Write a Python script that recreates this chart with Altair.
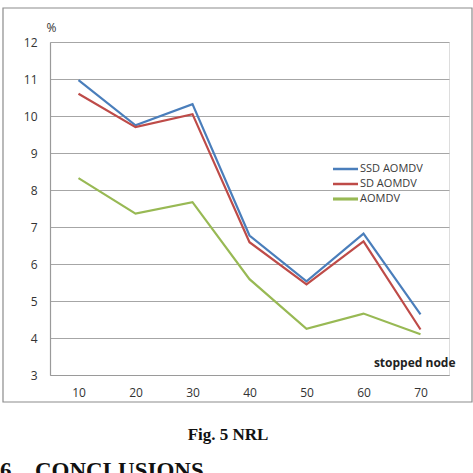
import altair as alt
import pandas as pd

# Stopped-node counts on the x axis
nodes = [10, 20, 30, 40, 50, 60, 70]
# NRL (%) per protocol
ssd_aomdv = [10.97, 9.75, 10.32, 6.77, 5.53, 6.82, 4.64]
sd_aomdv = [10.60, 9.70, 10.05, 6.59, 5.45, 6.61, 4.23]
aomdv = [8.32, 7.36, 7.67, 5.59, 4.25, 4.66, 4.10]

series_names = ["SSD AOMDV", "SD AOMDV", "AOMDV"]
series_colors = ["#4a7ebb", "#be4b48", "#98b954"]
series_widths = [2.2, 2.2, 2.8]
y_ticks = [3, 4, 5, 6, 7, 8, 9, 10, 11, 12]

rows = []
for name, vals in zip(series_names, [ssd_aomdv, sd_aomdv, aomdv]):
    for n, v in zip(nodes, vals):
        rows.append({"series": name, "node": n, "nrl": v})
df = pd.DataFrame(rows)

W, H = 399, 333
FONT = "Open Sans"

x_enc = alt.X(
    "node:O",
    scale=alt.Scale(type="point", padding=0.5),
    axis=alt.Axis(
        title="stopped node", titleAlign="right", titleBaseline="middle",
        titleX=405, titleY=-13, titleFont=FONT, titleFontSize=12,
        titleFontWeight="bold", titleColor="#222222",
        labelAngle=0, labelFont=FONT, labelFontSize=12, labelColor="#333333",
        labelPadding=12, ticks=False, domainColor="#9a9a9a", domainWidth=1.2,
        grid=False,
    ),
)
y_enc = alt.Y(
    "nrl:Q",
    scale=alt.Scale(domain=[3, 12], nice=False, zero=False),
    axis=alt.Axis(
        values=y_ticks, title="%", titleAngle=0, titleX=1, titleY=-15,
        titleAlign="center", titleBaseline="middle", titleFont=FONT,
        titleFontSize=12, titleFontWeight="normal", titleColor="#333333",
        labelFont=FONT, labelFontSize=12, labelColor="#333333", labelPadding=13,
        ticks=False, domainColor="#9a9a9a", domainWidth=1.2,
        grid=True, gridColor="#a6a6a6", gridWidth=1.2,
    ),
)

color_scale = alt.Scale(domain=series_names, range=series_colors)
width_scale = alt.Scale(domain=series_names, range=series_widths)

lines = alt.Chart(df).mark_line().encode(
    x=x_enc,
    y=y_enc,
    color=alt.Color("series:N", scale=color_scale, legend=None),
    strokeWidth=alt.StrokeWidth("series:N", scale=width_scale, legend=None),
    order=alt.Order("node:O"),
)

# Hand-placed legend: a short stroke and a label per series
legend_layers = []
for i, (name, col, sw) in enumerate(zip(series_names, series_colors, series_widths)):
    ypos = 127 + i * 15
    entry = pd.DataFrame({"series": [name]})
    legend_layers.append(
        alt.Chart(entry).mark_rule(color=col, strokeWidth=sw + 0.3).encode(
            x=alt.value(283), x2=alt.value(308), y=alt.value(ypos)
        )
    )
    legend_layers.append(
        alt.Chart(entry).mark_text(
            font=FONT, fontSize=11, color="#3a3a3a", align="left", baseline="middle"
        ).encode(text="series:N", x=alt.value(310), y=alt.value(ypos))
    )

frame = alt.Chart(pd.DataFrame({"k": [0]})).mark_rect(
    fill=None, stroke="#8c8c8c", strokeWidth=1.2
).encode(x=alt.value(-47), x2=alt.value(422), y=alt.value(-34), y2=alt.value(360))

caption = alt.Chart(pd.DataFrame({"t": ["Fig. 5 NRL"]})).mark_text(
    font="Liberation Serif", fontSize=17, fontWeight="bold", color="#111111",
    align="center", baseline="alphabetic",
).encode(text="t:N", x=alt.value(178), y=alt.value(398))

heading_num = alt.Chart(pd.DataFrame({"t": ["6"]})).mark_text(
    font="Liberation Serif", fontSize=23, fontWeight="bold", color="#111111",
    align="left", baseline="alphabetic",
).encode(text="t:N", x=alt.value(-50), y=alt.value(436))

heading = alt.Chart(pd.DataFrame({"t": ["CONCLUSIONS"]})).mark_text(
    font="Liberation Serif", fontSize=23, fontWeight="bold", color="#111111",
    align="left", baseline="alphabetic",
).encode(text="t:N", x=alt.value(-15), y=alt.value(436))

chart = alt.layer(frame, lines, *legend_layers, caption, heading_num, heading).properties(
    width=W, height=H,
    autosize=alt.AutoSizeParams(type="none"),
    padding={"left": 50, "top": 42, "right": 24, "bottom": 98},
).configure_view(stroke=None).configure(background="white")

chart.save("out.html", embed_options={"renderer": "svg", "actions": False})
